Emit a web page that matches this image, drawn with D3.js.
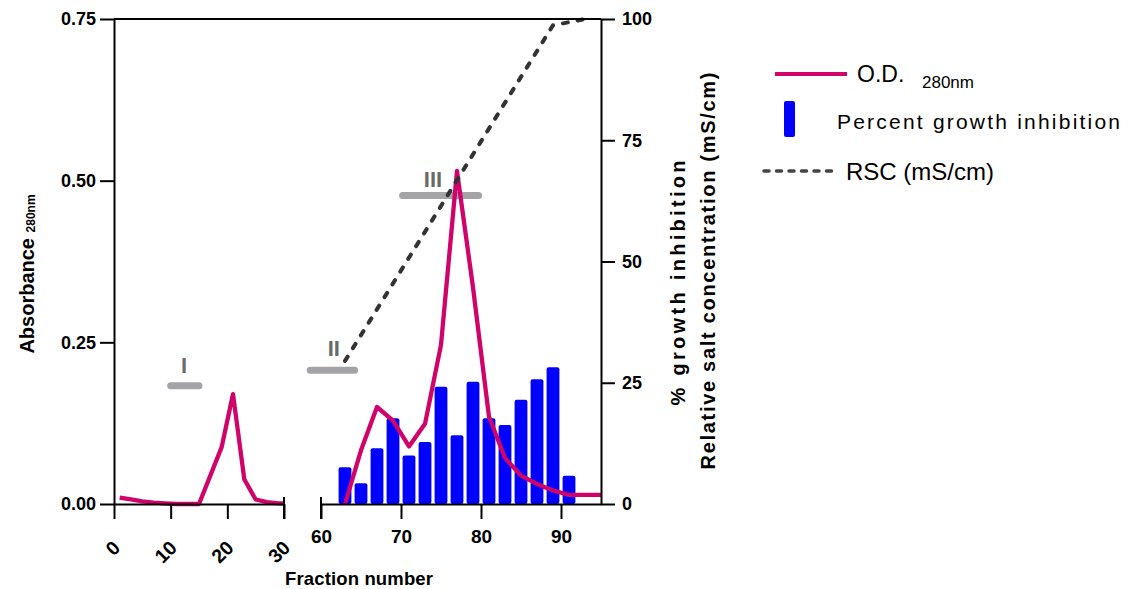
<!DOCTYPE html>
<html>
<head>
<meta charset="utf-8">
<script src="https://cdn.jsdelivr.net/npm/d3@7"></script>
<style>
  html, body { margin: 0; padding: 0; background: #fff; }
  svg { display: block; }
  text { font-family: "Liberation Sans", Arial, sans-serif; }
</style>
</head>
<body>
<svg id="chart" width="1134" height="589"></svg>
<script>
// ---------- data ----------
const fractionsLeft = [1, 3, 5, 7, 9, 11, 13, 15, 19, 21, 23, 25, 27, 29, 30];
const odLeft        = [0.010, 0.007, 0.004, 0.002, 0.001, 0, 0, 0, 0.088, 0.170, 0.038, 0.007, 0.003, 0.001, 0.001];
const fractionsRight = [63, 65, 67, 69, 71, 73, 75, 77, 79, 81, 83, 85, 87, 89, 91, 93, 95];
const odRight        = [0, 0.083, 0.150, 0.129, 0.089, 0.124, 0.246, 0.515, 0.335, 0.135, 0.071, 0.044, 0.031, 0.021, 0.014, 0.014, 0.014];
const barFractions = [63, 65, 67, 69, 71, 73, 75, 77, 79, 81, 83, 85, 87, 89, 91];
const inhibition   = [7.6, 4.3, 11.5, 17.7, 10.0, 12.8, 24.2, 14.2, 25.2, 17.7, 16.3, 21.5, 25.7, 28.2, 5.8];
const rscFractions = [63, 89, 93];
const rscValues    = [29.5, 98.7, 100];
const leftTicks = [0, 10, 20, 30];
const rightTicks = [60, 70, 80, 90];
const absTicks = [0, 0.25, 0.5, 0.75];
const pctTicks = [0, 25, 50, 75, 100];
// peak annotations (fraction range, absorbance level, label position)
const peakNames  = ["I", "II", "III"];
const peakSide   = ["L", "R", "R"];
const peakFrom   = [10, 58.65, 70.2];
const peakTo     = [15, 64.2, 79.7];
const peakLevel  = [0.183, 0.207, 0.477];
const peakLabelX = [12.35, 61.6, 74.0];
const peakLabelY = [0.2025, 0.229, 0.490];

// ---------- layout ----------
const svg = d3.select("#chart");
const y  = d3.scaleLinear().domain([0, 0.75]).range([504, 19]);
const y2 = d3.scaleLinear().domain([0, 100]).range([504, 19]);
const xL = d3.scaleLinear().domain([0, 30]).range([114, 284]);
const xR = d3.scaleLinear().domain([60, 95]).range([321, 601]);
const magenta = "#D0036B";
const blue = "#0000FF";
const TICK_FS = 18;

// peak bars
const peaks = peakNames.map((n, i) => ({n, s: peakSide[i], a: peakFrom[i], b: peakTo[i], lv: peakLevel[i], lx: peakLabelX[i], ly: peakLabelY[i]}));
peaks.forEach(p => {
  const sx = p.s === "L" ? xL : xR;
  svg.append("line")
    .attr("x1", sx(p.a)).attr("x2", sx(p.b))
    .attr("y1", y(p.lv)).attr("y2", y(p.lv))
    .attr("stroke", "#A4A4A8").attr("stroke-width", 7).attr("stroke-linecap", "round");
  svg.append("text")
    .attr("x", sx(p.lx)).attr("y", y(p.ly))
    .attr("text-anchor", "middle")
    .attr("font-size", 22).attr("font-weight", "bold").attr("fill", "#6A6A6A")
    .text(p.n);
});

// bars
const bars = barFractions.map((f, i) => ({f, v: inhibition[i]}));
svg.append("g").selectAll("rect").data(bars).join("rect")
  .attr("x", d => xR(d.f - 0.8))
  .attr("width", d => xR(d.f + 0.8) - xR(d.f - 0.8))
  .attr("y", d => y2(d.v))
  .attr("height", d => y2(0) - y2(d.v))
  .attr("rx", 2).attr("ry", 2)
  .attr("fill", blue);

// OD lines
const lineL = d3.line().x(d => xL(d[0])).y(d => y(d[1]));
const lineR = d3.line().x(d => xR(d[0])).y(d => y(d[1]));
svg.append("path").datum(fractionsLeft.map((f, i) => [f, odLeft[i]]))
  .attr("d", lineL).attr("fill", "none").attr("stroke", magenta)
  .attr("stroke-width", 4.3).attr("stroke-linejoin", "round");
svg.append("path").datum(fractionsRight.map((f, i) => [f, odRight[i]]))
  .attr("d", lineR).attr("fill", "none").attr("stroke", magenta)
  .attr("stroke-width", 4.3).attr("stroke-linejoin", "round");

// RSC dashed line
const lineRSC = d3.line().x(d => xR(d[0])).y(d => y2(d[1]));
svg.append("path").datum(rscFractions.map((f, i) => [f, rscValues[i]]))
  .attr("d", lineRSC).attr("fill", "none").attr("stroke", "#333")
  .attr("stroke-width", 4).attr("stroke-dasharray", "5,10").attr("stroke-linecap", "round");

// ---------- axes ----------
function styleAxis(g) {
  g.selectAll("path.domain").attr("stroke", "#000").attr("stroke-width", 2);
  g.selectAll(".tick line").attr("stroke", "#000").attr("stroke-width", 2);
  g.selectAll(".tick text").attr("font-family", "'Liberation Sans', Arial, sans-serif")
    .attr("font-size", TICK_FS).attr("font-weight", "bold").attr("fill", "#000");
}
// left axis
const gLeft = svg.append("g").attr("transform", "translate(114,0)")
  .call(d3.axisLeft(y).tickValues(absTicks).tickFormat(d3.format(".2f")).tickSize(14).tickSizeOuter(0).tickPadding(4));
styleAxis(gLeft);
// right axis
const gRight = svg.append("g").attr("transform", "translate(601,0)")
  .call(d3.axisRight(y2).tickValues(pctTicks).tickSize(14).tickSizeOuter(0).tickPadding(7));
styleAxis(gRight);
// top frame line
svg.append("line").attr("x1", 114).attr("x2", 601).attr("y1", y(0.75)).attr("y2", y(0.75))
  .attr("stroke", "#000").attr("stroke-width", 2);

// bottom left segment
const gBL = svg.append("g").attr("transform", "translate(0,504)")
  .call(d3.axisBottom(xL).tickValues(leftTicks).tickSize(15).tickSizeOuter(0).tickFormat(""));
styleAxis(gBL);
gBL.selectAll(".tick").append("text")
  .attr("transform", "translate(7,45) rotate(-45)")
  .attr("text-anchor", "end")
  .attr("font-size", 19.5).attr("font-weight", "bold").attr("fill", "#000")
  .text(d => d);
// bottom right segment
const gBR = svg.append("g").attr("transform", "translate(0,504)")
  .call(d3.axisBottom(xR).tickValues(rightTicks).tickSize(15).tickSizeOuter(0).tickPadding(11));
styleAxis(gBR);
gBR.selectAll(".tick text").attr("font-size", 19);
// break caps
[xL(30), xR(60)].forEach(xx => {
  svg.append("line").attr("x1", xx).attr("x2", xx).attr("y1", 497).attr("y2", 519)
    .attr("stroke", "#000").attr("stroke-width", 2);
});

// ---------- axis titles ----------
const yTitle = svg.append("text")
  .attr("transform", "translate(34,274) rotate(-90)")
  .attr("text-anchor", "middle")
  .attr("font-size", 20).attr("font-weight", "bold").attr("fill", "#000");
yTitle.append("tspan").text("Absorbance ");
yTitle.append("tspan").attr("font-size", 12).attr("dy", 1).text("280nm");

svg.append("text")
  .attr("transform", "translate(685,283) rotate(-90)")
  .attr("text-anchor", "middle")
  .attr("font-size", 20).attr("font-weight", "bold").attr("fill", "#000")
  .attr("textLength", 245).attr("lengthAdjust", "spacing")
  .text("% growth inhibition");
svg.append("text")
  .attr("transform", "translate(715,271) rotate(-90)")
  .attr("text-anchor", "middle")
  .attr("font-size", 20).attr("font-weight", "bold").attr("fill", "#000")
  .attr("textLength", 397).attr("lengthAdjust", "spacing")
  .text("Relative salt concentration (mS/cm)");

svg.append("text")
  .attr("x", 359).attr("y", 585)
  .attr("text-anchor", "middle")
  .attr("font-size", 18.5).attr("font-weight", "bold").attr("fill", "#000")
  .attr("textLength", 148).attr("lengthAdjust", "spacing")
  .text("Fraction number");

// ---------- legend ----------
const lg = svg.append("g");
lg.append("line").attr("x1", 775).attr("x2", 847).attr("y1", 74).attr("y2", 74)
  .attr("stroke", magenta).attr("stroke-width", 4);
lg.append("text").attr("x", 857).attr("y", 82).attr("font-size", 23).attr("fill", "#000").text("O.D.");
lg.append("text").attr("x", 922).attr("y", 88).attr("font-size", 17).attr("fill", "#000").text("280nm");
lg.append("rect").attr("x", 784).attr("y", 101).attr("width", 11).attr("height", 36)
  .attr("rx", 2).attr("fill", blue);
lg.append("text").attr("x", 837).attr("y", 129).attr("font-size", 21)
  .attr("textLength", 283).attr("lengthAdjust", "spacing")
  .attr("fill", "#000").text("Percent growth inhibition");
lg.append("line").attr("x1", 764).attr("x2", 836).attr("y1", 171).attr("y2", 171)
  .attr("stroke", "#444").attr("stroke-width", 3.5).attr("stroke-dasharray", "5,7.5").attr("stroke-linecap", "round");
lg.append("text").attr("x", 846).attr("y", 180).attr("font-size", 24).attr("fill", "#000").text("RSC (mS/cm)");
</script>
</body>
</html>
